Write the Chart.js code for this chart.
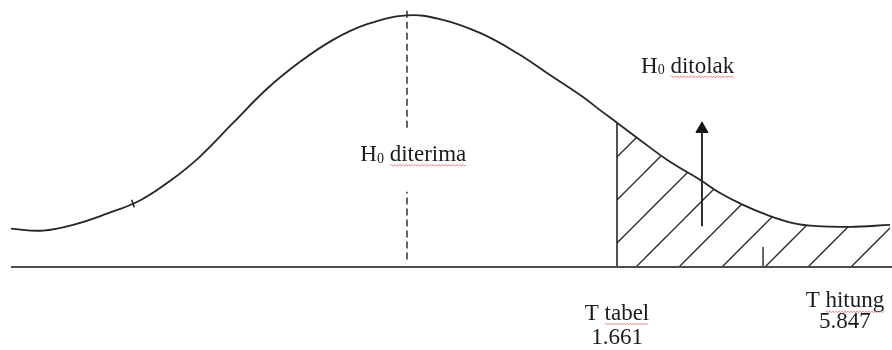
<!DOCTYPE html>
<html>
<head>
<meta charset="utf-8">
<script src="https://cdn.jsdelivr.net/npm/chart.js@4/dist/chart.umd.min.js"></script>
<style>
  body { margin: 0; background: #fff; }
</style>
</head>
<body>
<canvas id="tChart" width="892" height="350"></canvas>
<script>
// curve: t position and height above the baseline
const curveX = [-3.132, -2.879, -2.626, -2.373, -2.112, -1.875, -1.637, -1.376, -1.107, -0.846, -0.585, -0.316, 0,
                0.261, 0.577, 0.870, 1.131, 1.392, 1.527, 1.661, 1.819, 2.056, 2.317, 2.476, 2.658, 2.847,
                3.053, 3.243, 3.504, 3.820];
const curveY = [0.061, 0.058, 0.068, 0.085, 0.106, 0.137, 0.176, 0.2295, 0.284, 0.327, 0.362, 0.387, 0.401,
                0.395, 0.373, 0.341, 0.306, 0.271, 0.250, 0.230, 0.206, 0.171, 0.139, 0.118, 0.099, 0.083,
                0.070, 0.065, 0.064, 0.067];

const tTabel = 1.661;
const tHitungText = '5.847';
const tHitungPos = 3.464;   // where the label sits in the sketch
const arrowX = 2.333;
const arrowFrom = 0.065;
const arrowTo = 0.220;
const tickMarkX = 2.816;
const tickMarkH = 0.032;

const curve = curveX.map((x, i) => ({ x: x, y: curveY[i] }));
const tail = curve.filter(p => p.x >= tTabel);
const tabelY = curveY[curveX.indexOf(tTabel)];

// diagonal hatch pattern
function makeHatch() {
    const size = 43;
    const c = document.createElement('canvas');
    c.width = size;
    c.height = size;
    const g = c.getContext('2d');
    g.strokeStyle = '#2a2a2a';
    g.lineWidth = 1.4;
    g.beginPath();
    g.moveTo(-2, size + 2);
    g.lineTo(size + 2, -2);
    g.moveTo(-2, 2);
    g.lineTo(2, -2);
    g.moveTo(size - 2, size + 2);
    g.lineTo(size + 2, size - 2);
    g.stroke();
    return g.createPattern(c, 'repeat');
}

function squiggle(ctx, x1, x2, y) {
    ctx.save();
    ctx.strokeStyle = 'rgba(215,90,90,0.6)';
    ctx.lineWidth = 1;
    ctx.beginPath();
    ctx.moveTo(x1, y);
    let up = true;
    for (let x = x1 + 1.5; x <= x2; x += 1.5) {
        ctx.lineTo(x, up ? y - 1 : y + 1);
        up = !up;
    }
    ctx.stroke();
    ctx.restore();
}

const bigFont = '23px "Liberation Serif"';

// H with subscript 0, then a word
function drawH0(ctx, cx, cy, word) {
    const small = '14px "Liberation Serif"';
    ctx.font = bigFont;
    const wH = ctx.measureText('H').width;
    const wWord = ctx.measureText(' ' + word).width;
    ctx.font = small;
    const w0 = ctx.measureText('0').width;
    const total = wH + w0 + wWord;
    let x = cx - total / 2;
    ctx.textAlign = 'left';
    ctx.textBaseline = 'middle';
    ctx.font = bigFont;
    ctx.fillText('H', x, cy);
    x += wH;
    ctx.font = small;
    ctx.fillText('0', x, cy + 4);
    x += w0;
    ctx.font = bigFont;
    ctx.fillText(' ' + word, x, cy);
    const ws = ctx.measureText(' ').width;
    squiggle(ctx, x + ws, x + wWord, cy + 10);
}

const labelPlugin = {
    id: 'labels',
    afterDraw(chart) {
        const ctx = chart.ctx;
        const xs = chart.scales.x;
        const ys = chart.scales.y;
        ctx.save();
        ctx.fillStyle = '#1c1c1c';
        drawH0(ctx, xs.getPixelForValue(0.05), ys.getPixelForValue(0.178), 'diterima');
        drawH0(ctx, xs.getPixelForValue(2.22), ys.getPixelForValue(0.319), 'ditolak');

        ctx.font = bigFont;
        ctx.textAlign = 'center';
        ctx.textBaseline = 'middle';
        const px1 = xs.getPixelForValue(tTabel);
        ctx.fillText('T tabel', px1, ys.getPixelForValue(-0.075));
        ctx.fillText(String(tTabel), px1, ys.getPixelForValue(-0.113));
        const wT = ctx.measureText('T tabel').width;
        const wt = ctx.measureText('tabel').width;
        squiggle(ctx, px1 + wT / 2 - wt, px1 + wT / 2, ys.getPixelForValue(-0.075) + 10);

        const px2 = xs.getPixelForValue(tHitungPos);
        ctx.fillText('T hitung', px2, ys.getPixelForValue(-0.054));
        ctx.fillText(tHitungText, px2, ys.getPixelForValue(-0.088));
        const wH = ctx.measureText('T hitung').width;
        const wh = ctx.measureText('hitung').width;
        squiggle(ctx, px2 + wH / 2 - wh, px2 + wH / 2, ys.getPixelForValue(-0.054) + 11);
        ctx.restore();
    }
};

const ctx = document.getElementById('tChart').getContext('2d');

new Chart(ctx, {
    type: 'scatter',
    data: {
        datasets: [
            {
                // main curve
                data: curve,
                showLine: true,
                borderColor: '#262626',
                borderWidth: 1.8,
                pointRadius: 0,
                tension: 0.4,
                order: 1
            },
            {
                // hatched rejection area
                data: tail,
                showLine: true,
                borderColor: 'rgba(0,0,0,0)',
                backgroundColor: makeHatch(),
                fill: 'origin',
                pointRadius: 0,
                tension: 0.4,
                order: 5
            },
            {
                // baseline
                data: [{ x: curveX[0], y: 0 }, { x: 3.836, y: 0 }],
                showLine: true,
                borderColor: '#4d4d4d',
                borderWidth: 2.2,
                pointRadius: 0,
                order: 2
            },
            {
                // dashed centre line, broken for the label
                data: [{ x: 0, y: 0.012 }, { x: 0, y: 0.12 }, { x: 0, y: null }, { x: 0, y: 0.222 }, { x: 0, y: 0.41 }],
                showLine: true,
                spanGaps: false,
                borderColor: '#333',
                borderWidth: 1.5,
                borderDash: [7, 4],
                pointRadius: 0,
                order: 3
            },
            {
                // T tabel line
                data: [{ x: tTabel, y: 0 }, { x: tTabel, y: tabelY }],
                showLine: true,
                borderColor: '#262626',
                borderWidth: 1.6,
                pointRadius: 0,
                order: 3
            },
            {
                // arrow shaft
                data: [{ x: arrowX, y: arrowFrom }, { x: arrowX, y: arrowTo }],
                showLine: true,
                borderColor: '#1a1a1a',
                borderWidth: 1.8,
                pointRadius: 0,
                order: 3
            },
            {
                // arrow head
                data: [{ x: arrowX, y: arrowTo }],
                pointStyle: 'triangle',
                pointRadius: 7,
                backgroundColor: '#111',
                borderColor: '#111',
                borderWidth: 1,
                order: 3
            },
            {
                // small tick near the right
                data: [{ x: tickMarkX, y: 0 }, { x: tickMarkX, y: tickMarkH }],
                showLine: true,
                borderColor: '#262626',
                borderWidth: 1.4,
                pointRadius: 0,
                order: 3
            },
            {
                // small mark on the left slope
                data: [{ x: -2.167, y: 0.101 }],
                pointStyle: 'line',
                rotation: 70,
                pointRadius: 4,
                borderColor: '#222',
                borderWidth: 1.5,
                order: 3
            }
        ]
    },
    options: {
        responsive: false,
        animation: false,
        events: [],
        layout: { padding: 0, autoPadding: false },
        plugins: {
            legend: { display: false },
            tooltip: { enabled: false }
        },
        scales: {
            x: { type: 'linear', min: -3.219, max: 3.836, display: false },
            y: { type: 'linear', min: -0.1323, max: 0.4255, display: false }
        }
    },
    plugins: [labelPlugin]
});
</script>
</body>
</html>
